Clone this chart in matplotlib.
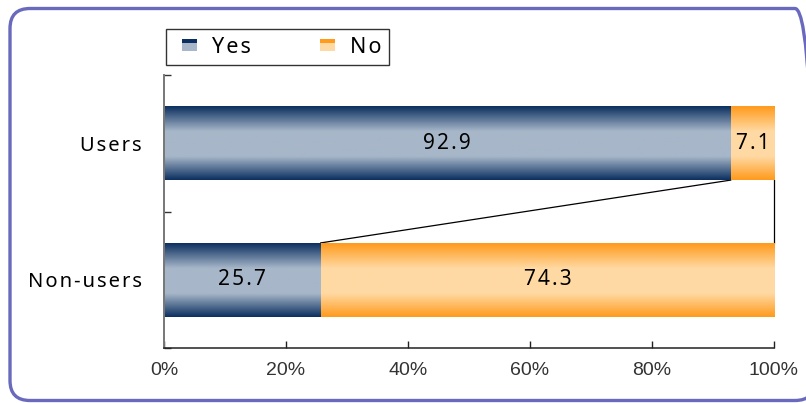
import numpy as np
import matplotlib
matplotlib.use("Agg")
import matplotlib.pyplot as plt
from matplotlib.colors import LinearSegmentedColormap
from matplotlib.patches import FancyBboxPatch, Rectangle, Patch
from matplotlib.legend_handler import HandlerBase
import matplotlib.ticker as ticker

categories = ["Non-users", "Users"]
yes_vals = [25.7, 92.9]
no_vals = [74.3, 7.1]
series_names = ["Yes", "No"]
x_ticks = [0, 20, 40, 60, 80, 100]

# edge colour, light centre colour per series
shades = {
    "Yes": ("#0b2f5f", "#a7b7c9"),
    "No":  ("#ff9a1c", "#ffd9a3"),
}

LABEL_FONT = ["Noto Sans", "DejaVu Sans"]
TICK_FONT = ["Liberation Sans Narrow", "Liberation Sans", "DejaVu Sans"]


def spaced(s):
    return "\u200a".join(s)


def gradient_cmap(name):
    dark, light = shades[name]
    return LinearSegmentedColormap.from_list(
        name, [(0, dark), (0.32, light), (0.66, light), (1, dark)])


class StripeHandler(HandlerBase):
    def create_artists(self, legend, orig, xd, yd, w, h, fontsize, trans):
        dark, light = shades[orig.get_label()]
        sw = w * 0.45
        x0 = xd + (w - sw) / 2
        parts = [(0.0, 0.45, light), (0.45, 0.2, light), (0.65, 0.35, dark)]
        arts = []
        for off, frac, c in parts:
            r = Rectangle((x0, -yd + h * 0.1 + off * h * 0.8), sw, frac * h * 0.8,
                          facecolor=c, edgecolor="none", transform=trans)
            arts.append(r)
        return arts


fig = plt.figure(figsize=(8.06, 4.03), dpi=100)

# rounded purple frame (inches, runs off the right edge)
frame = FancyBboxPatch((0.10, 0.025), 8.05, 3.92,
                       boxstyle="round,pad=0,rounding_size=0.2",
                       transform=fig.dpi_scale_trans, facecolor="none",
                       edgecolor="#6969bd", linewidth=2.4, clip_on=False)
fig.patches.append(frame)

ax = fig.add_axes([164 / 806, 55 / 403, 610 / 806, 273 / 403])

y = np.arange(len(categories))
bh = 0.54
bars_yes = ax.barh(y, yes_vals, height=bh, color="none", edgecolor="none")
bars_no = ax.barh(y, no_vals, left=yes_vals, height=bh, color="none",
                  edgecolor="none")

grad = np.linspace(0, 1, 256).reshape(-1, 1)
for name, bars, vals in [("Yes", bars_yes, yes_vals), ("No", bars_no, no_vals)]:
    cmap = gradient_cmap(name)
    for bar, v in zip(bars, vals):
        x0, y0 = bar.get_x(), bar.get_y()
        x1, y1 = x0 + bar.get_width(), y0 + bar.get_height()
        ax.imshow(grad, extent=[x0, x1, y0, y1], aspect="auto", cmap=cmap,
                  origin="lower", interpolation="bilinear", zorder=2)
        ax.text((x0 + x1) / 2, (y0 + y1) / 2, spaced(f"{v:.1f}"),
                ha="center", va="center", fontsize=15, color="black",
                family=LABEL_FONT, zorder=3)

# series lines between the stacked bars
lo_top = y[0] + bh / 2
hi_bot = y[1] - bh / 2
ax.plot([yes_vals[1], yes_vals[0]], [hi_bot, lo_top], color="black", lw=0.9,
        zorder=1)
total = yes_vals[1] + no_vals[1]
ax.plot([total, total], [hi_bot, lo_top], color="black", lw=0.9, zorder=1,
        clip_on=False)

ax.set_xlim(0, 100)
ax.set_ylim(-0.5, len(categories) - 0.5)

ax.set_yticks(y)
ax.set_yticklabels([spaced(c) for c in categories], family=LABEL_FONT,
                   fontsize=14.5)
ax.set_yticks([-0.5, 0.5, 1.5], minor=True)
ax.tick_params(axis="y", which="major", length=0, pad=16)
ax.tick_params(axis="y", which="minor", length=5, direction="in", width=1,
               color="#333333")

ax.set_xticks(x_ticks)
ax.xaxis.set_major_formatter(ticker.FuncFormatter(lambda v, p: f"{v:.0f}%"))
ax.tick_params(axis="x", length=5, direction="in", width=1, pad=10,
               labelsize=14, labelcolor="#333333", color="#222222")
for lbl in ax.get_xticklabels():
    lbl.set_family(TICK_FONT)

for s in ["top", "right"]:
    ax.spines[s].set_visible(False)
ax.spines["left"].set_color("#777777")
ax.spines["left"].set_linewidth(1.4)
ax.spines["bottom"].set_color("#222222")
ax.spines["bottom"].set_linewidth(1.1)

handles = [Patch(label=n) for n in series_names]
leg = fig.legend(handles=handles, labels=[spaced(n) for n in series_names],
                 handler_map={h: StripeHandler() for h in handles},
                 loc="upper left", bbox_to_anchor=(166 / 806, 1 - 29 / 403),
                 ncol=2, frameon=True, fancybox=False, edgecolor="black",
                 prop={"family": LABEL_FONT, "size": 15.5},
                 handlelength=1.5, handletextpad=0.3, columnspacing=2.8,
                 borderpad=0.35, borderaxespad=0)
leg.get_frame().set_linewidth(1.0)

fig.savefig("out.png", dpi=100)
